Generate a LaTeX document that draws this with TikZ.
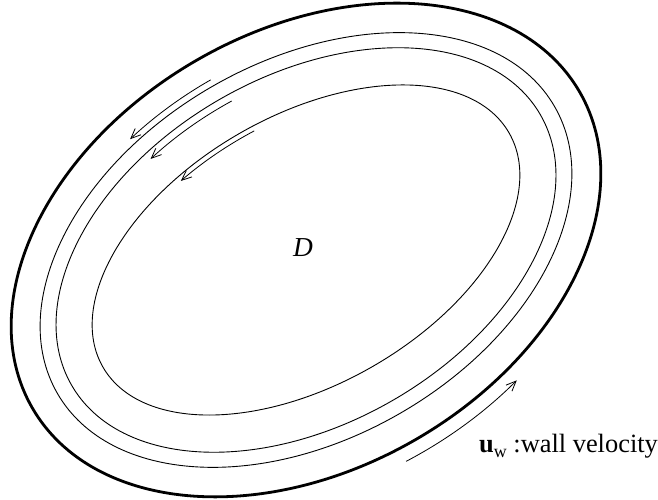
\documentclass[tikz,border=0pt]{standalone}
\usepackage{fontspec}
\setmainfont{Liberation Serif}
\usetikzlibrary{arrows.meta}
\begin{document}
\begin{tikzpicture}[x=1bp,y=1bp,
  wall/.style={line width=2.8bp},
  stream/.style={line width=0.9bp},
  flow/.style={line width=0.8bp,-{Straight Barb[length=10bp,width=8.5bp]}},
  lbl/.style={inner sep=0pt,font=\fontsize{26.5}{31}\selectfont}]
\useasboundingbox (0,0) rectangle (658,500);
\coordinate (c) at (306,250);
\begin{scope}[rotate around={30:(c)}]
  \draw[wall]   (c) ellipse [x radius=316bp,   y radius=219bp];
  \draw[stream] (c) ellipse [x radius=287bp,   y radius=188.5bp];
  \draw[stream] (c) ellipse [x radius=270.6bp, y radius=173.6bp];
  \draw[stream] (c) ellipse [x radius=234.4bp, y radius=134.2bp];
  % streamline arrows
  \draw[flow] ({306+292*cos(89.5)},{250+195*sin(89.5)})
     arc[start angle=89.5, end angle=109.4, x radius=292bp, y radius=195bp];
  \draw[flow] ({306+264.3*cos(87.8)},{250+166.3*sin(87.8)})
     arc[start angle=87.8, end angle=109.7, x radius=264.3bp, y radius=166.3bp];
  \draw[flow] ({306+229.3*cos(86.3)},{250+129.3*sin(86.3)})
     arc[start angle=86.3, end angle=108.8, x radius=229.3bp, y radius=129.3bp];
  % wall velocity arrow
  \draw[flow] ({306+330.5*cos(-93.3)},{250+233.5*sin(-93.3)})
     arc[start angle=-93.3, end angle=-69.2, x radius=330.5bp, y radius=233.5bp];
\end{scope}
\node[lbl, font=\fontsize{27.5}{32}\selectfont] (D) at (303,252) {\textit{D}};
\node[lbl, anchor=base west] (uw) at (479,47.7)
  {\textbf{u}\raisebox{-5bp}{\fontsize{18}{18}\selectfont w} :wall velocity};
\end{tikzpicture}
\end{document}
